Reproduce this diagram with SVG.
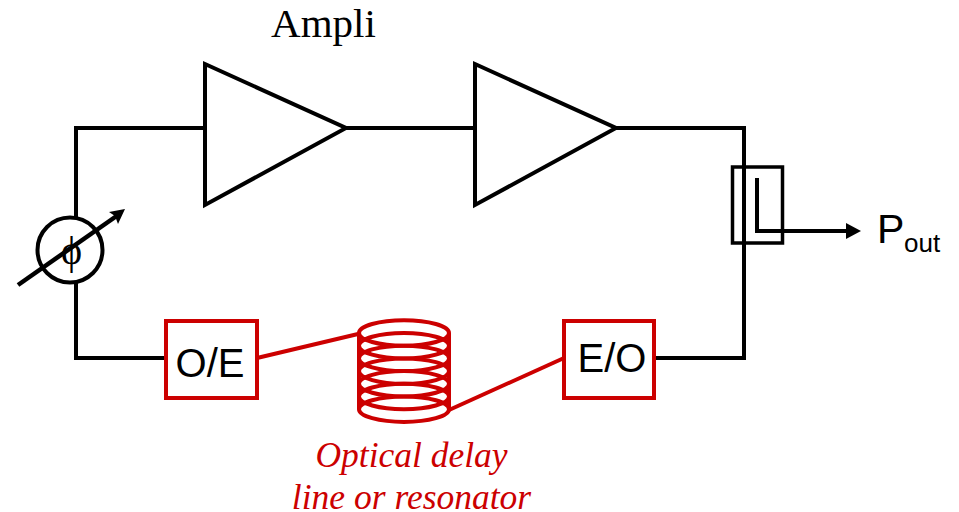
<svg xmlns="http://www.w3.org/2000/svg" width="959" height="512" viewBox="0 0 959 512">
<style>
.k{fill:none;stroke:#000;stroke-width:4;stroke-linejoin:miter}
.r{fill:none;stroke:#cc0000;stroke-width:4}
.c{fill:none;stroke:#cc0000;stroke-width:4}
.box{fill:#fff;stroke:#cc0000;stroke-width:4}
.s{font-family:"Liberation Sans",Arial,sans-serif;fill:#000}
.t{font-family:"Liberation Serif","Times New Roman",serif}
</style>
<g id="connectors">
<path class="k" d="M76 282V358H166"/>
<path class="k" d="M76 218V128H205"/>
<path class="k" d="M346 128H475"/>
<path class="k" d="M616 128H744V358H655"/>
<path class="r" d="M257 358L358 334"/>
<path class="r" d="M449 410L564 358"/>
</g>
<g id="ampli1"><path class="k" d="M205 64L346 128L205 205Z"/></g>
<g id="ampli2"><path class="k" d="M475 64L616 128L475 205Z"/></g>
<g id="ampli-label"><text class="t" x="323.500" y="37" font-size="41" text-anchor="middle">Ampli</text></g>
<g id="phase">
<circle cx="70" cy="250" r="32.500" fill="none" stroke="#000" stroke-width="4"/>
<text class="t" x="71.500" y="264" font-size="40" text-anchor="middle">ϕ</text>
<path d="M18 285L118 215" fill="none" stroke="#000" stroke-width="4.500"/>
<path d="M125 209L109 212L115 216L118 224Z" fill="#000"/>
</g>
<g id="coupler">
<rect x="732.500" y="167" width="50" height="76" fill="none" stroke="#000" stroke-width="3.500"/>
<path class="k" d="M757 178V231H846"/>
<path d="M846 223L861 231L846 239Z" fill="#000"/>
<text class="s" x="877" y="243" font-size="41">P</text>
<text class="s" x="904" y="252" font-size="26">out</text>
</g>
<g id="oe">
<rect class="box" x="166" y="321" width="91" height="77"/>
<text class="s" x="210" y="377" font-size="40" text-anchor="middle">O/E</text>
</g>
<g id="eo">
<rect class="box" x="564" y="321" width="90" height="77"/>
<text class="s" x="612" y="372" font-size="40" text-anchor="middle">E/O</text>
</g>
<g id="coil">
<ellipse class="c" cx="404" cy="333" rx="45" ry="12.700"/>
<ellipse class="c" cx="404" cy="345.700" rx="45" ry="12.700"/>
<ellipse class="c" cx="404" cy="358.400" rx="45" ry="12.700"/>
<ellipse class="c" cx="404" cy="371.100" rx="45" ry="12.700"/>
<ellipse class="c" cx="404" cy="383.800" rx="45" ry="12.700"/>
<ellipse class="c" cx="404" cy="396.500" rx="45" ry="12.700"/>
<ellipse class="c" cx="404" cy="409.200" rx="45" ry="12.700"/>
<path class="c" d="M359 333V409M449 333V409"/>
</g>
<g id="coil-label" class="t" font-size="35.500" font-style="italic" fill="#cc0000" text-anchor="middle">
<text x="411.500" y="467">Optical delay</text>
<text x="411.500" y="509">line or resonator</text>
</g>
</svg>
